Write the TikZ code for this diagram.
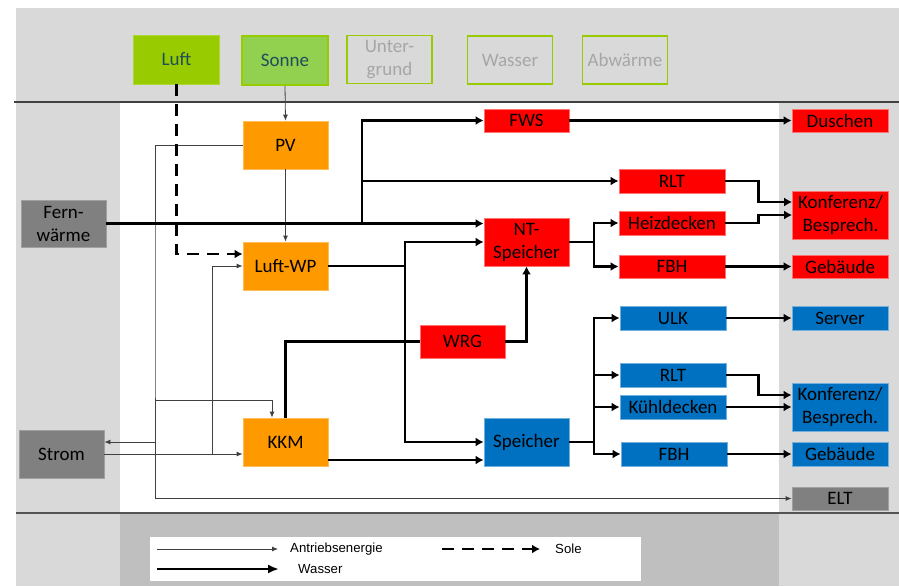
\documentclass[tikz,border=0pt]{standalone}
\usepackage{fontspec}
\setmainfont{Carlito}
\newfontfamily\legendfont{Liberation Sans}
\usetikzlibrary{arrows.meta}

\definecolor{bgLight}{HTML}{D9D9D9}
\definecolor{bgDark}{HTML}{BFBFBF}
\definecolor{srcGreen}{HTML}{99CC00}
\definecolor{sunGreen}{HTML}{92D050}
\definecolor{genOrange}{HTML}{FF9900}
\definecolor{heatRed}{HTML}{FF0000}
\definecolor{coolBlue}{HTML}{0070C0}
\definecolor{extGray}{HTML}{808080}
\definecolor{srcText}{HTML}{1F4E5A}
\definecolor{offText}{HTML}{A6A6A6}
\definecolor{powerLine}{HTML}{404040}

\tikzset{
  unit/.style={inner sep=0pt, align=center, text=black, line width=0.8pt,
    font=\fontsize{19}{23}\selectfont},
  srcbox/.style={unit, text=srcText, minimum width=86pt, minimum height=49pt},
  offbox/.style={unit, text=offText, draw=srcGreen, line width=1.5pt,
    minimum width=85pt, minimum height=48pt},
  genbox/.style={unit, fill=genOrange, draw=genOrange!65!white,
    minimum width=85pt, minimum height=48pt},
  redbox/.style={unit, fill=heatRed, draw=heatRed!55!white},
  bluebox/.style={unit, fill=coolBlue, draw=coolBlue!55!white},
  extbox/.style={unit, fill=extGray, draw=extGray!75!white},
  midsize/.style={minimum width=85pt, minimum height=48pt},
  flatsize/.style={minimum width=85pt, minimum height=23pt},
  consize/.style={minimum width=106pt, minimum height=24pt},
  usesize/.style={minimum width=96pt, minimum height=24pt},
  usetall/.style={minimum width=96pt, minimum height=48pt},
  power/.style={draw=powerLine, line width=0.8pt},
  powerarrow/.style={power, -{Latex[length=6pt,width=5pt]}},
  water/.style={draw=black, line width=2.6pt},
  waterarrow/.style={water, -{Latex[length=8pt,width=9pt]}},
  brine/.style={draw=black, line width=2.6pt, dash pattern=on 12pt off 8pt,
    -{Latex[length=8pt,width=9pt]}},
  legtext/.style={inner sep=0pt, anchor=west, text=black,
    font=\legendfont\fontsize{13.2}{15}\selectfont},
}

\begin{document}
\begin{tikzpicture}[x=1pt, y=-1pt]
  \useasboundingbox (0,0) rectangle (899,586);

  % background bands
  \fill[bgLight] (16,8) rectangle (899,102);
  \fill[bgLight] (16,102) rectangle (120,513);
  \fill[bgLight] (779,102) rectangle (899,513);
  \fill[bgLight] (16,513) rectangle (120,586);
  \fill[bgDark] (120,513) rectangle (779,586);
  \fill[bgLight] (779,513) rectangle (899,586);
  \draw[powerLine, line width=1.2pt] (14,102) -- (899,102);
  \draw[powerLine!90!white, line width=1.6pt] (16,513) -- (899,513);

  % sources
  \node[srcbox, fill=srcGreen, draw=srcGreen!80!white] (luft) at (176.5,59.5) {Luft};
  \node[srcbox, fill=sunGreen, draw=srcGreen, line width=1.5pt] (sonne) at (285,60.5) {Sonne};
  \node[offbox] (grund) at (389.5,59.5) {Unter-\\grund};
  \node[offbox] (wasser) at (510,60) {Wasser};
  \node[offbox] (abw) at (625,60) {Abwärme};

  % external supply
  \node[extbox, minimum width=85pt, minimum height=47pt] (fw) at (63.5,223.5) {Fern-\\wärme};
  \node[extbox, midsize] (strom) at (61.5,454) {Strom};

  % generators
  \node[genbox] (pv) at (285.5,145) {PV};
  \node[genbox] (lwp) at (285.5,266) {Luft-WP};
  \node[genbox] (kkm) at (285.5,442) {KKM};

  % heating side
  \node[redbox, flatsize] (fws) at (526.5,120.5) {FWS};
  \node[redbox, midsize] (nts) at (526.5,242) {NT-\\Speicher};
  \node[redbox, minimum width=85pt, minimum height=33pt] (wrg) at (462.5,341.5) {WRG};
  \node[redbox, consize] (rltr) at (672,181) {RLT};
  \node[redbox, consize] (hd) at (672,223) {Heizdecken};
  \node[redbox, consize, minimum height=23pt] (fbhr) at (672,266.5) {FBH};
  \node[redbox, usesize, minimum height=23pt] (dusch) at (840,120.5) {Duschen};
  \node[redbox, usetall] (konfr) at (840.5,215) {Konferenz/\\Besprech.};
  \node[redbox, usesize, minimum height=23pt] (gebr) at (840,266.5) {Gebäude};

  % cooling side
  \node[bluebox, midsize] (sp) at (526.5,442) {Speicher};
  \node[bluebox, consize] (ulk) at (673,318) {ULK};
  \node[bluebox, consize] (rltb) at (673,375) {RLT};
  \node[bluebox, consize] (kd) at (673,407) {Kühldecken};
  \node[bluebox, consize] (fbhb) at (674,454) {FBH};
  \node[bluebox, usesize] (server) at (840,318) {Server};
  \node[bluebox, usetall] (konfb) at (840,407) {Konferenz/\\Besprech.};
  \node[bluebox, usesize] (gebb) at (840,454) {Gebäude};

  % electrical consumers
  \node[extbox, usesize, minimum height=23pt] (elt) at (840,498.5) {ELT};

  % junction points
  \coordinate (ebus) at (155,300);
  \coordinate (ekkm) at (155,400);
  \coordinate (estrom) at (155,442);
  \coordinate (ewp) at (212,454);
  \coordinate (jfw) at (362,223.5);
  \coordinate (jwp) at (405,266);
  \coordinate (jnt) at (594,242);
  \coordinate (jsp) at (594,442);

  % drive energy
  \draw[powerarrow] (sonne.south) -- (pv.north);
  \draw[powerarrow] (pv.south) -- (lwp.north);
  \draw[powerarrow] (pv.west) -| (ebus) |- (elt.west);
  \draw[powerarrow] (ekkm) -| ([xshift=-13.5pt]kkm.north);
  \draw[powerarrow] (estrom) -- (estrom -| strom.east);
  \draw[powerarrow] (strom.east) -- (strom.east -| kkm.west);
  \draw[powerarrow] (ewp) |- (lwp.west);

  % brine
  \draw[brine] (luft.south) |- ([yshift=12pt]lwp.west);

  % water: district heating
  \draw[waterarrow] (fw.east) -- (fw.east -| nts.west);
  \draw[waterarrow] (jfw) |- (fws.west);
  \draw[waterarrow] (jfw |- rltr.west) -- (rltr.west);

  % water: heat pump
  \draw[water] (lwp.east) -- (jwp);
  \draw[waterarrow] (jwp) |- (nts.west);
  \draw[waterarrow] (jwp) |- (sp.west);

  % water: chiller and heat recovery
  \draw[waterarrow] ([yshift=-18pt]kkm.east) -- ([yshift=-18pt]sp.west);
  \draw[water] (kkm.north) |- (wrg.west);
  \draw[waterarrow] (wrg.east) -| (nts.south);

  % water: heating distribution
  \draw[water] (nts.east) -- (jnt);
  \draw[waterarrow] (jnt) |- (hd.west);
  \draw[waterarrow] (jnt) |- (fbhr.west);
  \draw[waterarrow] (fws.east) -- (dusch.west);
  \draw[waterarrow] (rltr.east) -- ++(33,0) |- ([yshift=13pt]konfr.west);
  \draw[waterarrow] (hd.east) -- ++(33,0) |- (konfr.west);
  \draw[waterarrow] (fbhr.east) -- (gebr.west);

  % water: cooling distribution
  \draw[water] (sp.east) -- (jsp);
  \draw[waterarrow] (jsp) |- (ulk.west);
  \draw[waterarrow] (jsp) |- (rltb.west);
  \draw[waterarrow] (jsp) |- (kd.west);
  \draw[waterarrow] (jsp) |- (fbhb.west);
  \draw[waterarrow] (ulk.east) -- (server.west);
  \draw[waterarrow] (rltb.east) -- ++(32,0) |- ([yshift=12pt]konfb.west);
  \draw[waterarrow] (kd.east) -- (konfb.west);
  \draw[waterarrow] (fbhb.east) -- (gebb.west);

  % legend
  \node[fill=white, minimum width=491pt, minimum height=44pt, inner sep=0pt] (legend) at (395.5,559) {};
  \node[legtext] (lgpower) at (290,549) {Antriebsenergie};
  \node[legtext] (lgwater) at (298,569) {Wasser};
  \node[legtext] (lgbrine) at (555,549) {Sole};
  \coordinate (lgpowerstart) at (157,549);
  \coordinate (lgwaterstart) at (157,569);
  \coordinate (lgbrinestart) at (442,549);
  \draw[powerarrow] (lgpowerstart) -- ++(121,0);
  \draw[water, -{Latex[length=11pt,width=9pt]}] (lgwaterstart) -- ++(122,0);
  \draw[brine] (lgbrinestart) -- ++(98,0);
\end{tikzpicture}
\end{document}
